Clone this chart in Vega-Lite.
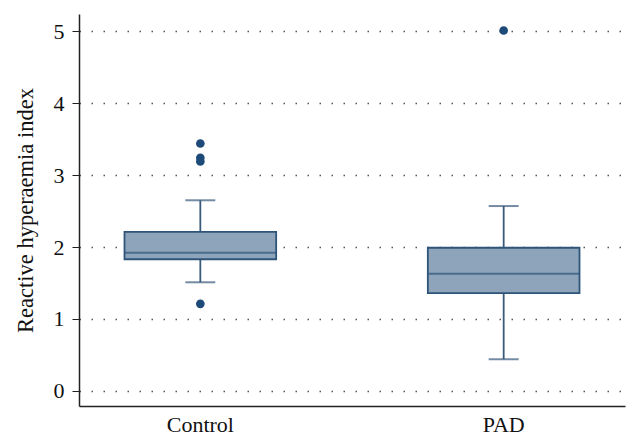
{
  "$schema": "https://vega.github.io/schema/vega-lite/v6.json",
  "autosize": "none",
  "width": 546,
  "height": 392,
  "padding": {"left": 79, "top": 14, "right": 12, "bottom": 39},
  "background": "white",
  "config": {
    "view": {"stroke": null},
    "font": "Liberation Serif"
  },
  "datasets": {
    "stats": [
      {"group": "Control", "lower": 1.51, "q1": 1.83, "median": 1.92, "q3": 2.21, "upper": 2.65},
      {"group": "PAD", "lower": 0.44, "q1": 1.36, "median": 1.63, "q3": 1.99, "upper": 2.57}
    ],
    "outliers": [
      {"group": "Control", "value": 3.44},
      {"group": "Control", "value": 3.24},
      {"group": "Control", "value": 3.19},
      {"group": "Control", "value": 1.21},
      {"group": "PAD", "value": 5.01}
    ]
  },
  "encoding": {
    "x": {
      "field": "group", "type": "nominal",
      "scale": {"paddingInner": 0.5, "paddingOuter": 0.15},
      "axis": {
        "title": null, "labelAngle": 0, "ticks": false, "labelFontSize": 22,
        "labelPadding": 8, "labelColor": "#111", "domainColor": "#222", "domainWidth": 1.5
      }
    }
  },
  "layer": [
    {
      "data": {"name": "stats"},
      "mark": {"type": "rule", "color": "#3a5a7c", "strokeWidth": 1.8},
      "encoding": {
        "y": {
          "field": "lower", "type": "quantitative",
          "scale": {"domain": [-0.21, 5.24], "nice": false, "zero": false},
          "axis": {
            "title": "Reactive hyperaemia index", "titleFontSize": 22.5, "titleFontWeight": "normal",
            "titleColor": "#111", "titlePadding": 16,
            "values": [0, 1, 2, 3, 4, 5], "format": "d", "labelFontSize": 22, "labelColor": "#111",
            "labelPadding": 8, "tickSize": 7, "tickColor": "#222", "domainColor": "#222", "domainWidth": 1.5,
            "grid": true, "gridColor": "#555", "gridDash": [1.5, 10.5], "gridWidth": 1.3
          }
        },
        "y2": {"field": "upper"}
      }
    },
    {
      "data": {"name": "stats"},
      "mark": {"type": "tick", "color": "#3a5a7c", "size": 30, "thickness": 2},
      "encoding": {"y": {"field": "lower", "type": "quantitative"}}
    },
    {
      "data": {"name": "stats"},
      "mark": {"type": "tick", "color": "#3a5a7c", "size": 30, "thickness": 2},
      "encoding": {"y": {"field": "upper", "type": "quantitative"}}
    },
    {
      "data": {"name": "stats"},
      "mark": {"type": "bar", "fill": "#8ea4ba", "stroke": "#2f5479", "strokeWidth": 1.8},
      "encoding": {
        "y": {"field": "q1", "type": "quantitative"},
        "y2": {"field": "q3"}
      }
    },
    {
      "data": {"name": "stats"},
      "mark": {"type": "tick", "color": "#2f5479", "size": 151, "thickness": 2},
      "encoding": {"y": {"field": "median", "type": "quantitative"}}
    },
    {
      "data": {"name": "outliers"},
      "mark": {"type": "circle", "color": "#1d4a78", "opacity": 1, "size": 75},
      "encoding": {"y": {"field": "value", "type": "quantitative"}}
    }
  ]
}
